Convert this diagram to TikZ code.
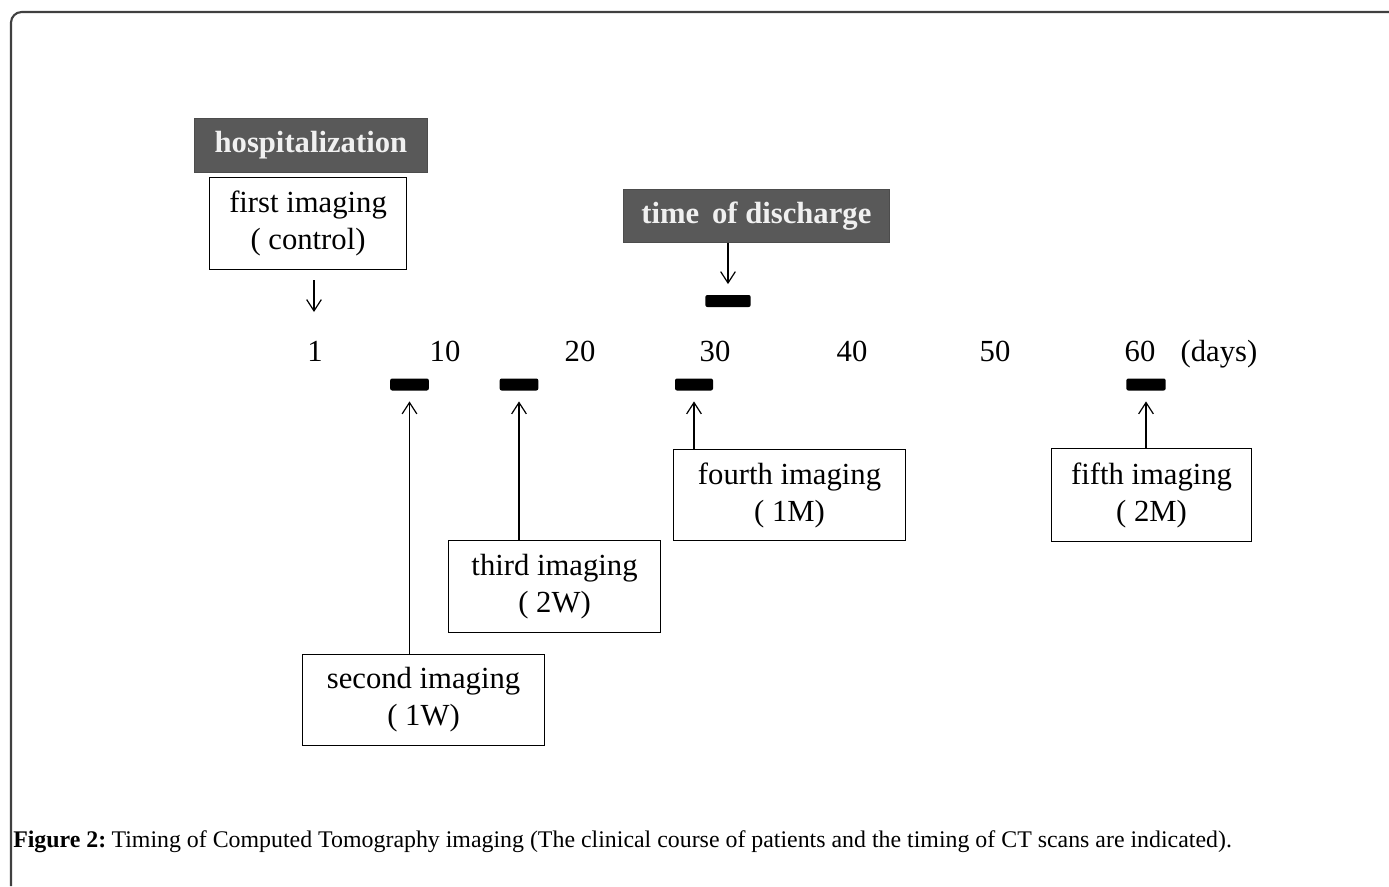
\documentclass[tikz,border=0pt]{standalone}
\usepackage{fontspec}
\setmainfont{Liberation Serif}
\usetikzlibrary{arrows.meta}
\definecolor{darkbox}{HTML}{595959}
\definecolor{frame}{HTML}{404040}
\begin{document}
\begin{tikzpicture}[x=0.75pt,y=-0.75pt,
  txt/.style={font=\fontsize{23}{27.75}\selectfont, inner sep=0pt, anchor=base},
  darklabel/.style={fill=darkbox, draw=black!70, line width=0.6pt, text=white!94!black, font=\fontsize{23}{27.75}\selectfont\bfseries, inner sep=0pt, anchor=north west},
  imgbox/.style={draw=black, line width=0.8pt, font=\fontsize{23}{27.75}\selectfont, align=center, inner sep=0pt, anchor=north west},
  tick/.style={fill=black, rounded corners=1.5pt, inner sep=0pt, minimum height=9pt},
  arr/.style={line width=0.9pt, -{Straight Barb[length=8.5pt,width=11pt,line width=0.9pt]}}
]
\useasboundingbox (0,0) rectangle (1389,886);
% frame
\draw[frame, line width=1.6pt, rounded corners=8pt] (11,886) -- (11,12) -- (1389,12);

% dark labels
\node[darklabel, minimum width=174.75pt, minimum height=40.5pt] (hosp) at (194,118) {hospitalization};
\node[darklabel, minimum width=199.5pt, minimum height=39.75pt] (disch) at (623,189) {time\,\ of discharge};

% first imaging box
\node[imgbox, minimum width=147.75pt, minimum height=69pt] (first) at (209,177) {first imaging\\( control)};

% axis labels
\node[txt] (n1) at (315,361) {1};
\node[txt] (n10) at (445,361) {10};
\node[txt] (n20) at (580,361) {20};
\node[txt] (n30) at (715,361) {30};
\node[txt] (n40) at (852,361) {40};
\node[txt] (n50) at (995,361) {50};
\node[txt] (n60) at (1140,361) {60};
\node[txt] (days) at (1219,361) {(days)};

% bars
\node[tick, minimum width=34pt] (bd) at (728,301) {};
\node[tick, minimum width=29pt] (b1) at (409.5,384.5) {};
\node[tick, minimum width=29pt] (b2) at (519,384.5) {};
\node[tick, minimum width=28.5pt] (b3) at (694,384.5) {};
\node[tick, minimum width=29.5pt] (b5) at (1146,384.5) {};

% imaging boxes
\node[imgbox, minimum width=181.5pt, minimum height=68.25pt] (second) at (302,654) {second imaging\\( 1W)};
\node[imgbox, minimum width=159pt, minimum height=69pt] (third) at (448,540) {third imaging\\( 2W)};
\node[imgbox, minimum width=174pt, minimum height=68.25pt] (fourth) at (673,449) {fourth imaging\\( 1M)};
\node[imgbox, minimum width=150pt, minimum height=69.75pt] (fifth) at (1051,448) {fifth imaging\\( 2M)};

% arrows
\coordinate (a1) at (314,312);
\draw[arr] (a1 |- first.south) ++(0,10) -- (a1);
\draw[arr] (bd.north |- disch.south) -- ([yshift=8pt]bd.north);
\draw[arr] (b1.south |- second.north) -- ([yshift=-8pt]b1.south);
\draw[arr] (b2.south |- third.north) -- ([yshift=-8pt]b2.south);
\draw[arr] (b3.south |- fourth.north) -- ([yshift=-8pt]b3.south);
\draw[arr] (b5.south |- fifth.north) -- ([yshift=-8pt]b5.south);

% caption
\node[anchor=west, inner sep=0pt, font=\fontsize{17.9}{21}\selectfont] (cap) at (13,842) {\textbf{Figure 2:}\hspace{-2pt} Timing of Computed Tomography imaging (The clinical course of patients and the timing of CT scans are indicated).};
\end{tikzpicture}
\end{document}
